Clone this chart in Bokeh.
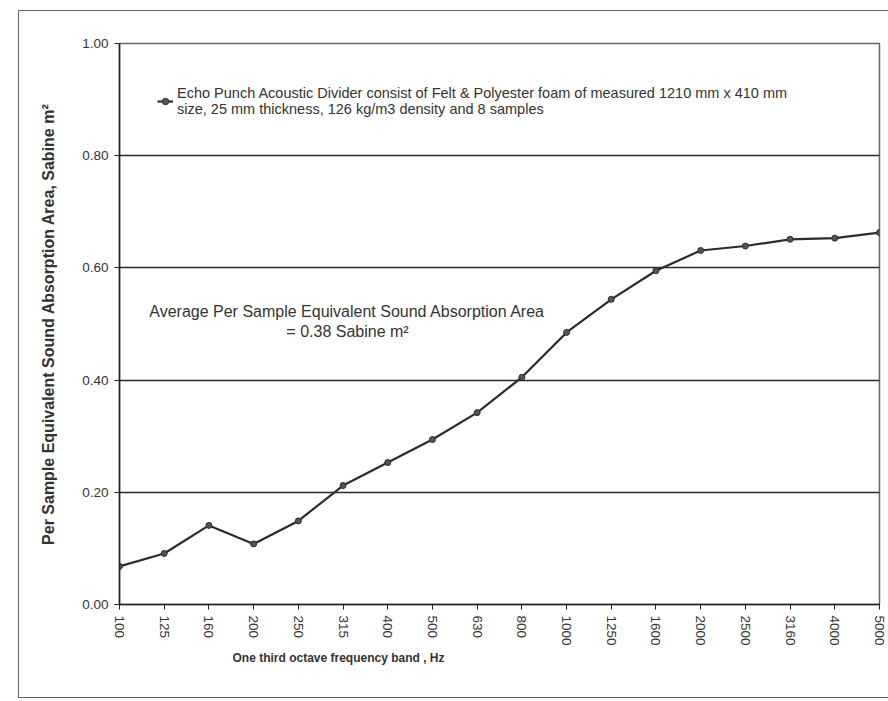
from bokeh.plotting import figure
from bokeh.models import (Range1d, FixedTicker, Legend, LegendItem, Label,
                          NumeralTickFormatter, Title)
from bokeh.embed import file_html
from bokeh.resources import INLINE

# ---- data ----
bands = ["100", "125", "160", "200", "250", "315", "400", "500", "630", "800",
         "1000", "1250", "1600", "2000", "2500", "3160", "4000", "5000"]
absorption = [0.068, 0.091, 0.141, 0.108, 0.149, 0.212, 0.253, 0.294, 0.342,
              0.405, 0.485, 0.544, 0.595, 0.631, 0.639, 0.651, 0.653, 0.663]
y_ticks = [0.0, 0.2, 0.4, 0.6, 0.8, 1.0]
series_label = ("Echo Punch Acoustic Divider consist of Felt & Polyester foam of measured 1210 mm x 410 mm\n"
                "size, 25 mm thickness, 126 kg/m3 density and 8 samples")
avg_line1 = "Average Per Sample Equivalent Sound Absorption Area"
avg_line2 = "= 0.38 Sabine m\u00b2"
x_title = "One third octave frequency band , Hz"
y_title = "Per Sample Equivalent Sound Absorption Area, Sabine m\u00b2"

idx = list(range(len(bands)))
FONT = "Liberation Sans"
TXT = "#333333"

p = figure(width=870, height=688, output_backend="svg", toolbar_location=None,
           x_range=Range1d(0, len(bands) - 1), y_range=Range1d(0, 1),
           min_border_left=100, min_border_right=10, min_border_top=32,
           min_border_bottom=95)
p.styles = {"margin-left": "18px", "margin-top": "10px",
            "border-left": "1.5px solid #666", "border-top": "1.5px solid #666",
            "border-bottom": "1.5px solid #666"}
p.background_fill_color = "white"
p.border_fill_color = "white"
p.outline_line_color = "#666666"
p.outline_line_width = 1.5

# grid
p.xgrid.grid_line_color = None
p.ygrid.ticker = FixedTicker(ticks=y_ticks)
p.ygrid.grid_line_color = "#2a2a2a"
p.ygrid.grid_line_width = 1.3

# axes
p.xaxis.ticker = FixedTicker(ticks=idx)
p.xaxis.major_label_overrides = {i: b for i, b in enumerate(bands)}
p.xaxis.major_label_orientation = "vertical"
p.yaxis.ticker = FixedTicker(ticks=y_ticks)
p.yaxis.formatter = NumeralTickFormatter(format="0.00")
for ax in (p.xaxis[0], p.yaxis[0]):
    ax.axis_line_color = "#222222"
    ax.axis_line_width = 1.5
    ax.major_tick_line_color = "#222222"
    ax.major_tick_in = 0
    ax.major_tick_out = 5
    ax.minor_tick_line_color = None
    ax.major_label_text_font = FONT
    ax.major_label_text_font_size = "13.5px"
    ax.major_label_text_color = "#333333"
    ax.major_label_standoff = 6
p.yaxis.axis_label = y_title
p.yaxis.axis_label_text_font = FONT
p.yaxis.axis_label_text_font_style = "bold"
p.yaxis.axis_label_text_font_size = "16px"
p.yaxis.axis_label_text_color = TXT
p.yaxis.axis_label_standoff = 22

# x-axis title, offset to the left as in the reference
p.add_layout(Title(text=x_title, align="left", offset=113,
                   text_font=FONT, text_font_style="bold",
                   text_font_size="12px", text_color=TXT, standoff=0),
             "below")

# series
r_line = p.line(idx, absorption, line_color="#2b2b2b", line_width=2.2)
r_pts = p.scatter(idx, absorption, marker="circle", size=6,
                  fill_color="#555555", line_color="#2b2b2b", line_width=1)

legend = Legend(items=[LegendItem(label=series_label, renderers=[r_line, r_pts])],
                location=(38, 487), border_line_color=None,
                background_fill_alpha=0, label_text_font=FONT,
                label_text_font_size="14.5px", label_text_color=TXT,
                glyph_width=16, padding=4, margin=0, label_standoff=4)
p.add_layout(legend, "center")

# annotation
p.add_layout(Label(x=5.1, y=0.522, text=avg_line1, text_align="center",
                   text_baseline="middle", text_font=FONT,
                   text_font_size="16px", text_color=TXT))
p.add_layout(Label(x=5.1, y=0.487, text=avg_line2, text_align="center",
                   text_baseline="middle", text_font=FONT,
                   text_font_size="16px", text_color=TXT))

open("out.html", "w").write(file_html(p, INLINE))
